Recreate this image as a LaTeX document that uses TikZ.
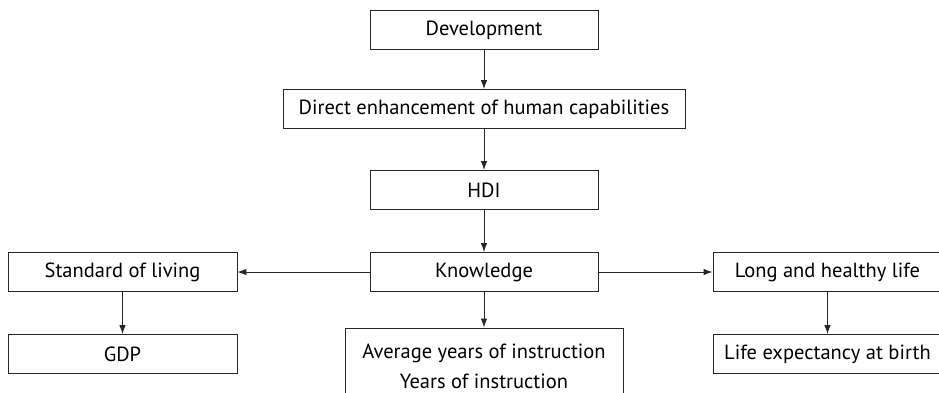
\documentclass[tikz,border=0pt]{standalone}
\usepackage{fontspec}
\setmainfont{PT Sans}
\usetikzlibrary{arrows,arrows.meta,positioning}

\begin{document}
\begin{tikzpicture}[x=1pt,y=-1pt]
\tikzstyle{box}=[rectangle,draw=black!85,line width=0.9pt,minimum width=228pt,minimum height=39pt,inner sep=0pt,font=\fontsize{20.5}{30}\selectfont]
\tikzstyle{wide}=[box,minimum width=402pt]
\tikzstyle{side}=[box,minimum width=229pt]
\tikzstyle{link}=[-{Latex[length=9pt,width=6.5pt]},draw=black!85,line width=0.9pt]
\useasboundingbox (0,0) rectangle (939,392);
\node[box] (dev) at (484,30) {Development};
\node[wide] (direct) at (484,109) {Direct enhancement of human capabilities};
\node[box] (hdi) at (484,190) {HDI};
\node[box] (know) at (484,272) {Knowledge};
\node[side] (living) at (122.5,272) {Standard of living};
\node[side] (health) at (827.5,272) {Long and healthy life};
\node[side] (gdp) at (122.5,354) {GDP};
\node[side] (life) at (827.5,354) {Life expectancy at birth};
\node[box,minimum width=278pt,minimum height=76pt,align=center] (years) at (484,366) {Average years of instruction\\Years of instruction};
% connectors
\draw[link] (dev) -- (direct);
\draw[link] (direct) -- (hdi);
\draw[link] (hdi) -- (know);
\draw[link] (know) -- (living);
\draw[link] (know) -- (health);
\draw[link] (know) -- (years);
\draw[link] (living) -- (gdp);
\draw[link] (health) -- (life);
\end{tikzpicture}
\end{document}
